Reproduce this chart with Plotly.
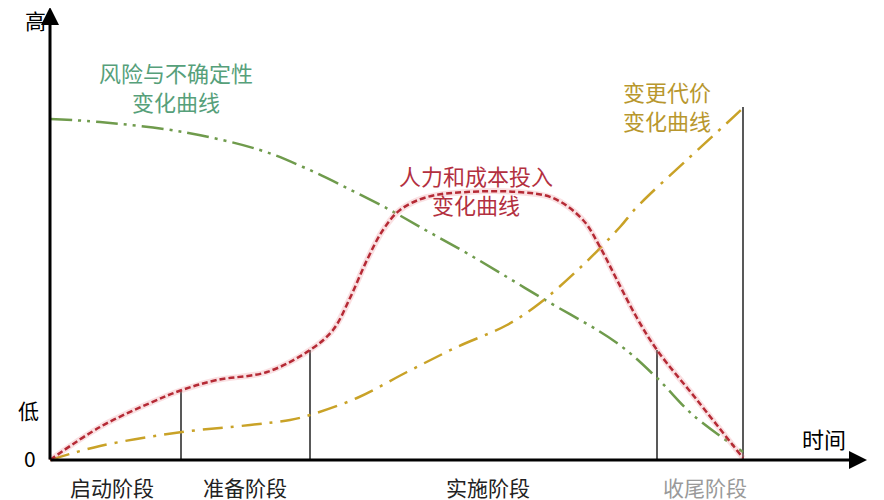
import plotly.graph_objects as go

# curves (time vs level, arbitrary units)
risk_x = [0, 50, 133, 210, 253, 297, 340, 370, 420, 490, 567, 607, 643, 693]
risk_y = [341, 338, 328, 310, 293, 272, 250, 233, 205, 163, 117, 82, 45, 8]

cost_x = [0, 50, 100, 132, 167, 217, 260, 283, 300, 317, 333, 350, 377, 417, 467, 503, 533, 550, 567, 587, 607, 647, 693]
cost_y = [0, 33, 57, 70, 80, 88, 110, 130, 162, 200, 230, 250, 263, 268, 268, 262, 240, 213, 180, 142, 110, 60, 2]

change_x = [0, 50, 132, 200, 240, 260, 307, 357, 407, 457, 490, 533, 570, 587, 640, 677, 693]
change_y = [0, 14, 28, 35, 40, 45, 62, 88, 113, 135, 157, 195, 233, 253, 303, 337, 352]

# phase boundaries and how high each divider reaches
phase_x = [131, 260, 607, 693]
phase_top = [70, 110, 110, 353]
phase_names = ['启动阶段', '准备阶段', '实施阶段', '收尾阶段']
phase_mid = [62, 195, 438, 655]

GREEN = '#6f9b4c'
RED = '#b52a35'
GOLD = '#c9a227'
FONT = 'Noto Sans CJK SC'

fig = go.Figure()

for px_, top in zip(phase_x, phase_top):
    fig.add_trace(go.Scatter(x=[px_, px_], y=[0, top], mode='lines',
                             line=dict(color='#222222', width=1.5), hoverinfo='skip'))

fig.add_trace(go.Scatter(x=risk_x, y=risk_y, mode='lines',
                         line=dict(color=GREEN, width=2.5, shape='spline',
                                   dash='22px,6px,3px,6px,3px,6px')))
fig.add_trace(go.Scatter(x=change_x, y=change_y, mode='lines',
                         line=dict(color=GOLD, width=2.5, shape='spline',
                                   dash='20px,8px,3px,8px')))
# soft pink halo under the red curve
fig.add_trace(go.Scatter(x=cost_x, y=cost_y, mode='lines',
                         line=dict(color='rgba(235,130,140,0.25)', width=6, shape='spline')))
fig.add_trace(go.Scatter(x=cost_x, y=cost_y, mode='lines',
                         line=dict(color=RED, width=2.5, shape='spline', dash='6px,3px')))

# axes with arrows
fig.add_annotation(x=0, y=453, ax=0, ay=-1, xref='x', yref='y', axref='x', ayref='y',
                   showarrow=True, arrowhead=2, arrowsize=1.2, arrowwidth=3, arrowcolor='black', text='')
fig.add_annotation(x=817, y=0, ax=-1, ay=0, xref='x', yref='y', axref='x', ayref='y',
                   showarrow=True, arrowhead=2, arrowsize=1.2, arrowwidth=3, arrowcolor='black', text='')

labels = [
    ('高', -15, 440, 'black', 21),
    ('低', -22, 50, 'black', 21),
    ('0', -20, 2, 'black', 21),
    ('时间', 774, 22, 'black', 22),
    ('风险与不确定性<br>变化曲线', 126, 374, '#56a07a', 22),
    ('人力和成本投入<br>变化曲线', 426, 271, '#b3303f', 22),
    ('变更代价<br>变化曲线', 617, 355, '#b8972e', 22),
]
for text, x, y, color, size in labels:
    fig.add_annotation(x=x, y=y, text=text, showarrow=False, xref='x', yref='y',
                       font=dict(family=FONT, size=size, color=color), align='center')

for name, x in zip(phase_names, phase_mid):
    color = '#9a9a9a' if name == '收尾阶段' else '#222222'
    fig.add_annotation(x=x, y=-27, text=name, showarrow=False, xref='x', yref='y',
                       font=dict(family=FONT, size=21, color=color))

# page body adds an 8px margin, so the ranges are shifted to compensate
fig.update_layout(
    width=884, height=500,
    margin=dict(l=0, r=0, t=0, b=0),
    plot_bgcolor='white', paper_bgcolor='white',
    showlegend=False,
    xaxis=dict(range=[-42, 842], visible=False, fixedrange=True),
    yaxis=dict(range=[-48, 452], visible=False, fixedrange=True),
)

fig.write_html('out.html')
